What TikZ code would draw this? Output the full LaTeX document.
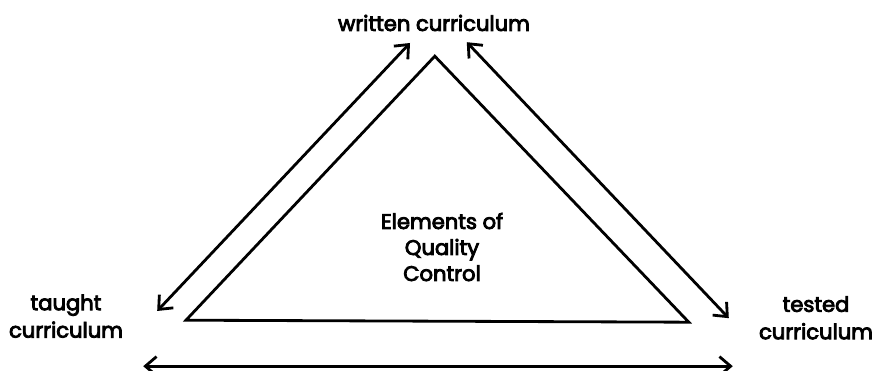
\documentclass[tikz,border=0pt]{standalone}
\usepackage{fontspec}
\setmainfont{Poppins}
\newfontfamily\labelfont{Poppins}[FakeBold=4]
\usepackage{tikz}
\usetikzlibrary{arrows.meta,positioning}
\tikzset{
  label text/.style={font=\labelfont\fontsize{15}{19.5}\selectfont, align=center, inner sep=0pt},
  edge line/.style={line width=2pt, line join=miter},
  link/.style={line width=2pt, {Straight Barb[length=2.8mm,width=4.8mm]}-{Straight Barb[length=2.8mm,width=4.8mm]}}
}

\begin{document}
\begin{tikzpicture}
        \useasboundingbox (0,0) rectangle (21.9,9.275);
        % corner texts
        \node[label text] (written) at (10.85,8.7) {written curriculum};
        \node[label text] (taught) at (1.65,1.37) {taught\\curriculum};
        \node[label text] (tested) at (20.4,1.33) {tested\\curriculum};
        \node[label text, font=\labelfont\fontsize{15}{18.5}\selectfont] (quality) at (11.05,3.1) {Elements of\\Quality\\Control};

        % triangle
        \coordinate (apex) at (10.87,7.87);
        \coordinate (left) at (4.65,1.27);
        \coordinate (right) at (17.22,1.22);
        \draw[edge line] (apex) -- (left) -- (right) -- cycle;

        % arrow ends
        \coordinate (wl) at (10.25,8.2);
        \coordinate (tl) at (3.93,1.5);
        \coordinate (wr) at (11.67,8.22);
        \coordinate (tr) at (18.22,1.32);
        \coordinate (bl) at (3.58,0.12);
        \coordinate (br) at (18.32,0.12);
        \draw[link] (wl) -- (tl);
        \draw[link] (wr) -- (tr);
        \draw[link] (bl) -- (br);
\end{tikzpicture}
\end{document}
